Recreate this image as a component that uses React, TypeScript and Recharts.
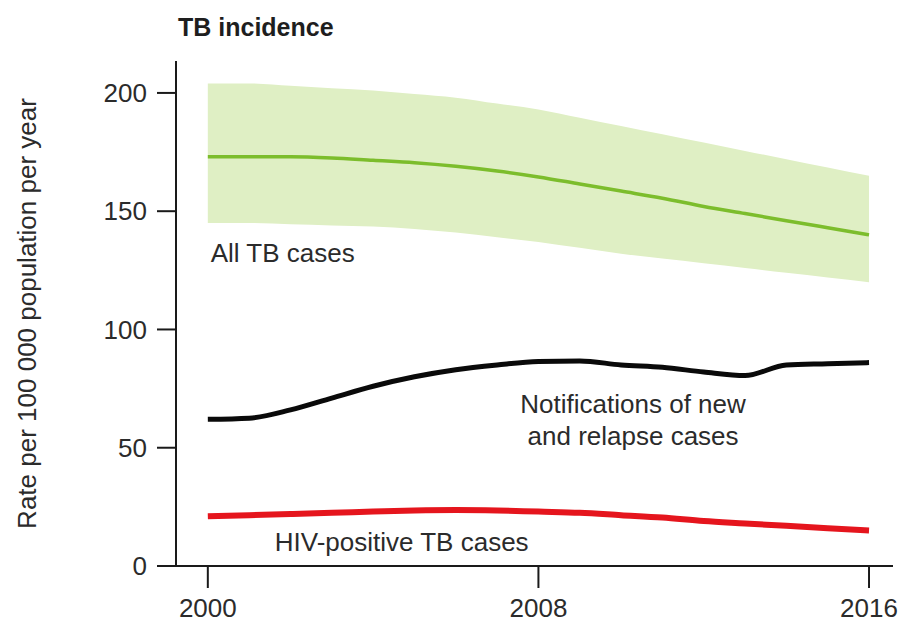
import { ComposedChart, Line, Area, XAxis, YAxis, ReferenceDot } from 'recharts';

const years = [2000, 2001, 2002, 2003, 2004, 2005, 2006, 2007, 2008, 2009, 2010, 2011, 2012, 2013, 2014, 2015, 2016];
const allTb = [173, 173, 173, 172.5, 171.5, 170.5, 169, 167, 164.5, 161.5, 158.5, 155.5, 152, 149, 146, 143, 140];
const allTbHigh = [204, 204, 203, 202, 201, 199.5, 198, 195.5, 193, 189.5, 186, 182.5, 179, 175.5, 172, 168.5, 165];
const allTbLow = [145, 145, 144.5, 144, 143.5, 142.5, 141, 139, 137, 134.5, 132, 130, 128, 126, 124, 122, 120];
const notified = [62, 62.5, 66, 71, 76, 80, 83, 85, 86.5, 86.7, 85, 84, 82, 80.5, 85, 85.5, 86];
const hivPositive = [21, 21.5, 22, 22.5, 23, 23.5, 23.7, 23.5, 23, 22.5, 21.5, 20.5, 19, 18, 17, 16, 15];

const xTicks = [2000, 2008, 2016];
const yTicks = [0, 50, 100, 150, 200];

const data = years.map((year, i) => ({
  year,
  allTb: allTb[i],
  band: [allTbLow[i], allTbHigh[i]],
  notified: notified[i],
  hiv: hivPositive[i],
}));

const FONT = '"Liberation Sans", Arial, sans-serif';
const TEXT = '#2b2b2b';
const labelStyle = { fontFamily: FONT, fontSize: 26, fill: TEXT };

export default function App() {
  return (
    <div style={{ position: 'fixed', left: 0, top: 0, width: 902, height: 626, background: '#fff' }}>
      <div
        style={{
          position: 'absolute',
          left: 178,
          top: 12,
          fontFamily: FONT,
          fontSize: 25,
          fontWeight: 'bold',
          color: '#1e1e1e',
          lineHeight: '30px',
          whiteSpace: 'nowrap',
        }}
      >
        TB incidence
      </div>
      <ComposedChart width={902} height={626} data={data} margin={{ top: 61, right: 9, bottom: 0, left: 0 }}>
        <XAxis
          dataKey="year"
          type="number"
          domain={[1999.23, 2016.58]}
          ticks={xTicks}
          allowDataOverflow
          height={60}
          tickSize={22}
          tickMargin={11}
          axisLine={{ stroke: '#1a1a1a', strokeWidth: 2 }}
          tickLine={{ stroke: '#1a1a1a', strokeWidth: 2 }}
          tick={{ fontFamily: FONT, fontSize: 26, fill: TEXT }}
        />
        <YAxis
          type="number"
          domain={[0, 213.5]}
          ticks={yTicks}
          allowDataOverflow
          width={176}
          tickSize={19}
          tickMargin={10}
          axisLine={{ stroke: '#1a1a1a', strokeWidth: 2 }}
          tickLine={{ stroke: '#1a1a1a', strokeWidth: 2 }}
          tick={{ fontFamily: FONT, fontSize: 26, fill: TEXT }}
          label={{
            value: 'Rate per 100 000 population per year',
            angle: -90,
            position: 'insideLeft',
            offset: 0,
            style: { ...labelStyle, textAnchor: 'middle' },
            dx: 27,
          }}
        />
        <Area
          dataKey="band"
          type="monotone"
          stroke="none"
          fill="#dfefc4"
          fillOpacity={1}
          isAnimationActive={false}
        />
        <Line dataKey="allTb" type="monotone" stroke="#7cbd2c" strokeWidth={3.5} dot={false} isAnimationActive={false} />
        <Line dataKey="notified" type="monotone" stroke="#0a0a0a" strokeWidth={5} dot={false} isAnimationActive={false} />
        <Line dataKey="hiv" type="monotone" stroke="#e5151d" strokeWidth={6} dot={false} isAnimationActive={false} />
        <ReferenceDot
          x={2000.07}
          y={132.3}
          r={0}
          fill="none"
          stroke="none"
          label={{ value: 'All TB cases', position: 'right', offset: 0, style: labelStyle }}
        />
        <ReferenceDot
          x={2010.29}
          y={68.6}
          r={0}
          fill="none"
          stroke="none"
          label={{ value: 'Notifications of new', position: 'center', offset: 0, style: labelStyle }}
        />
        <ReferenceDot
          x={2010.29}
          y={55}
          r={0}
          fill="none"
          stroke="none"
          label={{ value: 'and relapse cases', position: 'center', offset: 0, style: labelStyle }}
        />
        <ReferenceDot
          x={2001.62}
          y={10.2}
          r={0}
          fill="none"
          stroke="none"
          label={{ value: 'HIV-positive TB cases', position: 'right', offset: 0, style: labelStyle }}
        />
      </ComposedChart>
    </div>
  );
}
